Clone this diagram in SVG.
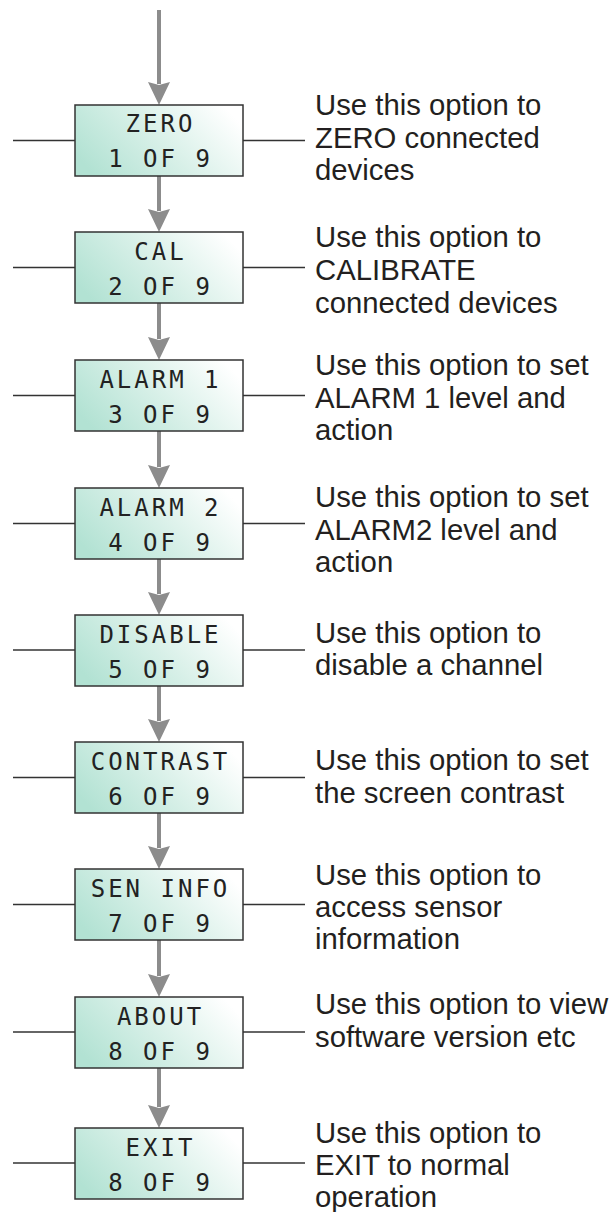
<svg xmlns="http://www.w3.org/2000/svg" width="612" height="1212" viewBox="0 0 612 1212">
<style>
.box{fill:url(#lcd);stroke:#333;stroke-width:1.5}
.lcd{font-family:"DejaVu Sans Mono","Liberation Mono",monospace;font-size:24px;letter-spacing:3px;fill:#222;text-anchor:middle}
.desc{font-family:"Liberation Sans",Arial,sans-serif;font-size:29.3px;fill:#231f20}
.side{stroke:#333;stroke-width:1.3;fill:none}
.flow{stroke:#8c8c8c;stroke-width:4;fill:none;marker-end:url(#head)}
</style>
<defs>
<linearGradient id="lcd" x1="0" y1="0.7" x2="1" y2="0.3">
<stop offset="0" stop-color="#b2e2d3"/>
<stop offset="0.5" stop-color="#d8f0e8"/>
<stop offset="1" stop-color="#ffffff"/>
</linearGradient>
<marker id="head" markerUnits="userSpaceOnUse" viewBox="0 -12 24 24" markerWidth="24" markerHeight="24" refX="2" refY="0" orient="auto">
<path d="M0,-11 L3,0 L0,11 L23,0 Z" fill="#8c8c8c"/>
</marker>
</defs>

<g id="connectors">
<line class="flow" x1="159" y1="10" x2="159" y2="84"/>
<line class="flow" x1="159" y1="176" x2="159" y2="211"/>
<line class="flow" x1="159" y1="303" x2="159" y2="339"/>
<line class="flow" x1="159" y1="431" x2="159" y2="467"/>
<line class="flow" x1="159" y1="559" x2="159" y2="594"/>
<line class="flow" x1="159" y1="686" x2="159" y2="721"/>
<line class="flow" x1="159" y1="813" x2="159" y2="848"/>
<line class="flow" x1="159" y1="940" x2="159" y2="976"/>
<line class="flow" x1="159" y1="1068" x2="159" y2="1107"/>
<line class="side" x1="13" y1="140.5" x2="75" y2="140.5"/><line class="side" x1="243" y1="140.5" x2="305" y2="140.5"/>
<line class="side" x1="13" y1="267.5" x2="75" y2="267.5"/><line class="side" x1="243" y1="267.5" x2="305" y2="267.5"/>
<line class="side" x1="13" y1="395.5" x2="75" y2="395.5"/><line class="side" x1="243" y1="395.5" x2="305" y2="395.5"/>
<line class="side" x1="13" y1="523.5" x2="75" y2="523.5"/><line class="side" x1="243" y1="523.5" x2="305" y2="523.5"/>
<line class="side" x1="13" y1="650" x2="75" y2="650"/><line class="side" x1="243" y1="650" x2="305" y2="650"/>
<line class="side" x1="13" y1="777.5" x2="75" y2="777.5"/><line class="side" x1="243" y1="777.5" x2="305" y2="777.5"/>
<line class="side" x1="13" y1="904.5" x2="75" y2="904.5"/><line class="side" x1="243" y1="904.5" x2="305" y2="904.5"/>
<line class="side" x1="13" y1="1032" x2="75" y2="1032"/><line class="side" x1="243" y1="1032" x2="305" y2="1032"/>
<line class="side" x1="13" y1="1163" x2="75" y2="1163"/><line class="side" x1="243" y1="1163" x2="305" y2="1163"/>
</g>

<g id="node-zero">
<rect class="box" x="75" y="105" width="168" height="71"/>
<text class="lcd" x="160.5" y="132">ZERO</text>
<text class="lcd" x="160.5" y="167">1 OF 9</text>
<text class="desc" x="315" y="115">Use this option to</text>
<text class="desc" x="315" y="148">ZERO connected</text>
<text class="desc" x="315" y="180">devices</text>
</g>

<g id="node-cal">
<rect class="box" x="75" y="232" width="168" height="71"/>
<text class="lcd" x="160.5" y="259.5">CAL</text>
<text class="lcd" x="160.5" y="294.5">2 OF 9</text>
<text class="desc" x="315" y="247">Use this option to</text>
<text class="desc" x="315" y="280">CALIBRATE</text>
<text class="desc" x="315" y="313">connected devices</text>
</g>

<g id="node-alarm1">
<rect class="box" x="75" y="360" width="168" height="71"/>
<text class="lcd" x="160.5" y="387.5">ALARM 1</text>
<text class="lcd" x="160.5" y="422.5">3 OF 9</text>
<text class="desc" x="315" y="375">Use this option to set</text>
<text class="desc" x="315" y="408">ALARM 1 level and</text>
<text class="desc" x="315" y="440">action</text>
</g>

<g id="node-alarm2">
<rect class="box" x="75" y="488" width="168" height="71"/>
<text class="lcd" x="160.5" y="515.5">ALARM 2</text>
<text class="lcd" x="160.5" y="550.5">4 OF 9</text>
<text class="desc" x="315" y="507">Use this option to set</text>
<text class="desc" x="315" y="540">ALARM2 level and</text>
<text class="desc" x="315" y="572">action</text>
</g>

<g id="node-disable">
<rect class="box" x="75" y="615" width="168" height="71"/>
<text class="lcd" x="160.5" y="642.5">DISABLE</text>
<text class="lcd" x="160.5" y="677.5">5 OF 9</text>
<text class="desc" x="315" y="643">Use this option to</text>
<text class="desc" x="315" y="675">disable a channel</text>
</g>

<g id="node-contrast">
<rect class="box" x="75" y="742" width="168" height="71"/>
<text class="lcd" x="160.5" y="769.5">CONTRAST</text>
<text class="lcd" x="160.5" y="804.5">6 OF 9</text>
<text class="desc" x="315" y="770">Use this option to set</text>
<text class="desc" x="315" y="803">the screen contrast</text>
</g>

<g id="node-seninfo">
<rect class="box" x="75" y="869" width="168" height="71"/>
<text class="lcd" x="160.5" y="896.5">SEN INFO</text>
<text class="lcd" x="160.5" y="931.5">7 OF 9</text>
<text class="desc" x="315" y="885">Use this option to</text>
<text class="desc" x="315" y="917">access sensor</text>
<text class="desc" x="315" y="949">information</text>
</g>

<g id="node-about">
<rect class="box" x="75" y="997" width="168" height="71"/>
<text class="lcd" x="160.5" y="1024.5">ABOUT</text>
<text class="lcd" x="160.5" y="1059.5">8 OF 9</text>
<text class="desc" x="315" y="1014">Use this option to view</text>
<text class="desc" x="315" y="1047">software version etc</text>
</g>

<g id="node-exit">
<rect class="box" x="75" y="1128" width="168" height="71"/>
<text class="lcd" x="160.5" y="1155.5">EXIT</text>
<text class="lcd" x="160.5" y="1190.5">8 OF 9</text>
<text class="desc" x="315" y="1143">Use this option to</text>
<text class="desc" x="315" y="1175">EXIT to normal</text>
<text class="desc" x="315" y="1207">operation</text>
</g>
</svg>
